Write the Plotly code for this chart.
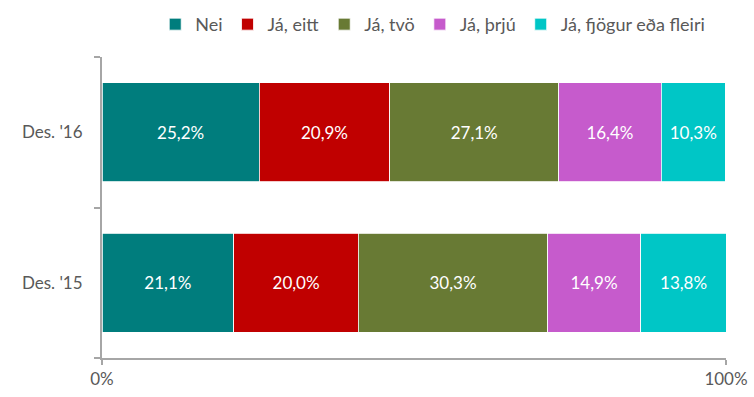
import plotly.graph_objects as go

categories = ["Des. '15", "Des. '16"]
series_names = ["Nei", "Já, eitt", "Já, tvö", "Já, þrjú", "Já, fjögur eða fleiri"]
values = {
    "Nei": [21.1, 25.2],
    "Já, eitt": [20.0, 20.9],
    "Já, tvö": [30.3, 27.1],
    "Já, þrjú": [14.9, 16.4],
    "Já, fjögur eða fleiri": [13.8, 10.3],
}
colors = ["#007D7D", "#C00000", "#687A34", "#C65BCC", "#00C6C6"]
x_ticks = [0, 100]
x_tick_labels = ["0%", "100%"]

font_family = "Lato, 'Open Sans', sans-serif"

fig = go.Figure()
for name, color in zip(series_names, colors):
    vals = values[name]
    fig.add_trace(go.Bar(
        y=categories,
        x=vals,
        name=name,
        orientation="h",
        marker=dict(color=color, line=dict(color="white", width=0.8)),
        text=[f"{v:.1f}%".replace(".", ",") for v in vals],
        textposition="inside",
        insidetextanchor="middle",
        textfont=dict(color="white", size=17, family=font_family),
        hoverinfo="skip",
    ))

fig.update_layout(
    barmode="stack",
    bargap=0.34,
    width=754,
    height=397,
    margin=dict(l=102, r=28, t=57, b=39, autoexpand=False),
    paper_bgcolor="white",
    plot_bgcolor="white",
    font=dict(family=font_family, color="#595959", size=16),
    uniformtext=dict(minsize=10, mode="show"),
    legend=dict(
        orientation="h",
        x=0.53, xanchor="center",
        y=0.985, yanchor="top",
        yref="container",
        xref="paper",
        font=dict(size=18, color="#595959"),
        itemwidth=30,
        traceorder="normal",
        tracegroupgap=0,
    ),
    showlegend=True,
)

fig.update_xaxes(
    range=[0, 100],
    tickvals=x_ticks,
    ticktext=x_tick_labels,
    showgrid=False,
    zeroline=False,
    showline=True,
    linecolor="#A6A6A6",
    linewidth=2,
    ticks="outside",
    ticklen=5,
    tickwidth=2,
    tickcolor="#A6A6A6",
    automargin=False,
    tickfont=dict(size=17, color="#595959"),
)
fig.update_yaxes(
    categoryorder="array",
    categoryarray=categories,
    showgrid=False,
    showline=True,
    linecolor="#A6A6A6",
    linewidth=2,
    ticks="outside",
    tickson="boundaries",
    ticklen=6,
    tickwidth=2,
    tickcolor="#A6A6A6",
    ticklabelstandoff=14,
    automargin=False,
    tickfont=dict(size=17, color="#595959"),
)

fig.write_html("out.html")
